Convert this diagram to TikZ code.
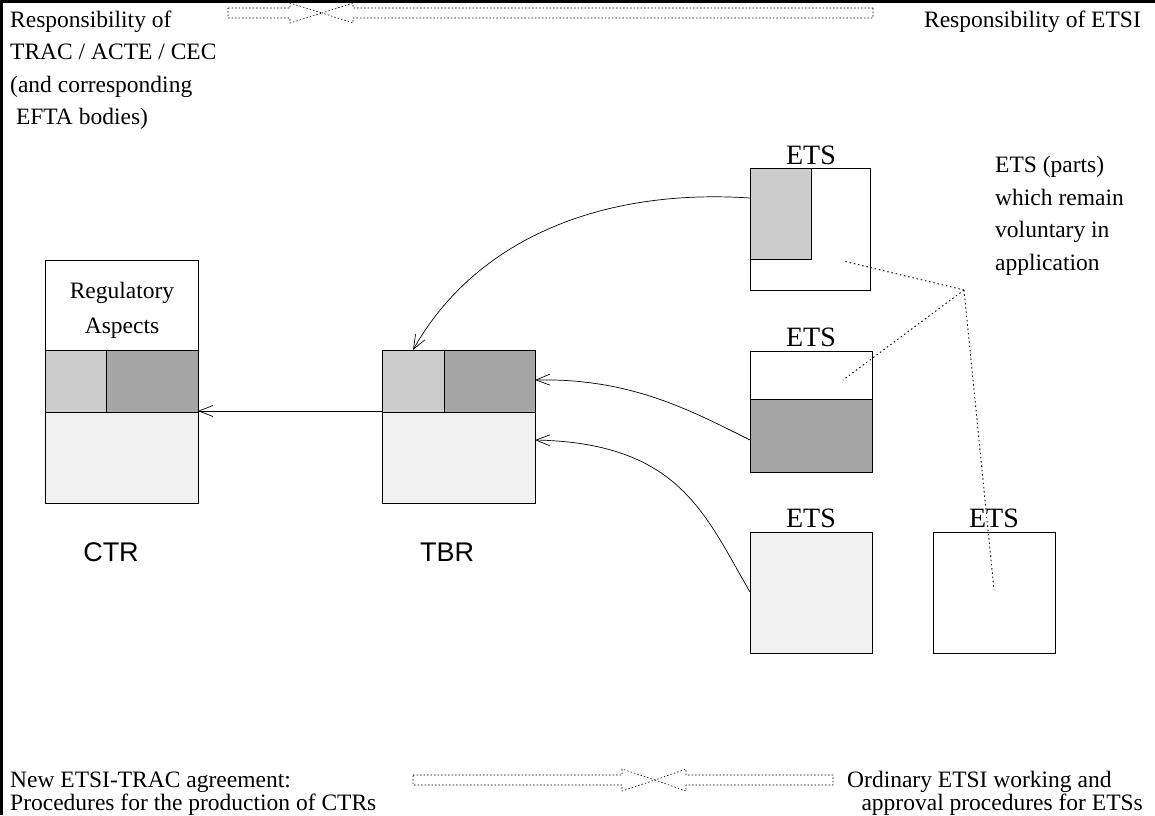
\documentclass[tikz,border=0pt]{standalone}
\usepackage{fontspec}
\setmainfont{Liberation Serif}
\newfontfamily\labfont{Liberation Sans}
\usetikzlibrary{arrows.meta}
\definecolor{lgray}{HTML}{CCCCCC}
\definecolor{dgray}{HTML}{A6A6A6}
\definecolor{vlgray}{HTML}{F0F0F0}
\begin{document}
\begin{tikzpicture}[x=1pt,y=-1pt,
  txt/.style={font=\fontsize{23.5}{28}\selectfont, inner sep=0pt, anchor=base west},
  lab/.style={font=\labfont\fontsize{27}{30}\selectfont, inner sep=0pt, anchor=base},
  etslab/.style={font=\fontsize{28}{30}\selectfont, inner sep=0pt, anchor=base},
  cell/.style={draw=black, line width=0.8pt},
  conn/.style={line width=0.7pt, -{Straight Barb[length=14pt,width=11pt,line width=0.7pt]}},
  dotline/.style={line width=0.9pt, dash pattern=on 1.5pt off 2.8pt},
  fatarrow/.style={line width=0.6pt, dash pattern=on 1.5pt off 2pt},
  frame/.style={line width=2.5pt}]
\useasboundingbox (0,0) rectangle (1155,815);
% frame
\draw[frame] (1.5,815) -- (1.5,1.5) -- (1155,1.5);
% top texts
\node[txt] (r1) at (10,27) {Responsibility of};
\node[txt] (r2) at (10,59.5) {TRAC / ACTE / CEC};
\node[txt] (r3) at (10,92) {(and corresponding};
\node[txt] (r4) at (10,124.5) {\ EFTA bodies)};
\node[txt, anchor=base east] (re) at (1141,27) {Responsibility of ETSI};
% top double hollow arrow
\draw[fatarrow] (228,8) -- (290,8) -- (290,3) -- (322,13) -- (290,23) -- (290,18) -- (228,18) -- cycle;
\draw[fatarrow] (873,8) -- (353,8) -- (353,3) -- (322,13) -- (353,23) -- (353,18) -- (873,18) -- cycle;
% bottom double hollow arrow
\draw[fatarrow] (413,775) -- (622,775) -- (622,769) -- (655,780) -- (622,791) -- (622,785) -- (413,785) -- cycle;
\draw[fatarrow] (833,775) -- (686,775) -- (686,769) -- (655,780) -- (686,791) -- (686,785) -- (833,785) -- cycle;
% bottom texts
\node[txt] (b1) at (10,787) {New ETSI-TRAC agreement:};
\node[txt] (b2) at (10,810) {Procedures for the production of CTRs};
\node[txt] (b3) at (847,787) {Ordinary ETSI working and};
\node[txt, anchor=base east] (b4) at (1143,810) {approval procedures for ETSs};
% ETS (parts) text
\node[txt] (p1) at (995,172) {ETS (parts)};
\node[txt] (p2) at (995,205) {which remain};
\node[txt] (p3) at (995,237.5) {voluntary in};
\node[txt] (p4) at (995,270) {application};
% CTR box
\draw[cell, fill=white] (45,260) rectangle (198,350);
\draw[cell, fill=lgray] (45,350) rectangle (106,412);
\draw[cell, fill=dgray] (106,350) rectangle (198,412);
\draw[cell, fill=vlgray] (45,412) rectangle (198,503);
\node[font=\fontsize{23.5}{28}\selectfont, inner sep=0pt, anchor=base] (ra1) at (122,298) {Regulatory};
\node[font=\fontsize{23.5}{28}\selectfont, inner sep=0pt, anchor=base] (ra2) at (122,333) {Aspects};
\node[lab] (ctr) at (111,561) {CTR};
\coordinate (ctrin) at (198,411);
% TBR box
\draw[cell, fill=lgray] (382,350) rectangle (444,412);
\draw[cell, fill=dgray] (444,350) rectangle (535,412);
\draw[cell, fill=vlgray] (382,412) rectangle (535,503);
\node[lab] (tbr) at (447,561) {TBR};
\coordinate (tbrout) at (382,411);
\coordinate (tbrtop) at (413,350);
\coordinate (tbrr1) at (535,380);
\coordinate (tbrr2) at (535,440);
% ETS boxes
\node[etslab] (e1l) at (811,164) {ETS};
\draw[cell, fill=white] (750,168) rectangle (870,290);
\draw[cell, fill=lgray] (750,168) rectangle (811,259);
\coordinate (e1) at (750,198);
\node[etslab] (e2l) at (811,346) {ETS};
\draw[cell, fill=white] (750,351) rectangle (872,399);
\draw[cell, fill=dgray] (750,399) rectangle (872,472);
\coordinate (e2) at (750,440);
\node[etslab] (e3l) at (811,527) {ETS};
\draw[cell, fill=vlgray] (750,532) rectangle (872,653);
\coordinate (e3) at (750,592);
\node[etslab] (e4l) at (994,527) {ETS};
\draw[cell, fill=white] (933,532) rectangle (1055,653);
% connectors
\draw[conn] (tbrout) -- (ctrin);
\draw[conn] (e1) .. controls (600,188) and (475,240) .. (tbrtop);
\draw[conn] (e2) .. controls (690,410) and (630,378) .. (tbrr1);
\draw[conn] (e3) .. controls (705,515) and (680,443) .. (tbrr2);
% dotted pointer lines
\coordinate (hub) at (964,290);
\coordinate (d1) at (843,261);
\coordinate (d2) at (843,380);
\coordinate (d3) at (994,590);
\draw[dotline] (hub) -- (d1);
\draw[dotline] (hub) -- (d2);
\draw[dotline] (hub) -- (d3);
\end{tikzpicture}
\end{document}
